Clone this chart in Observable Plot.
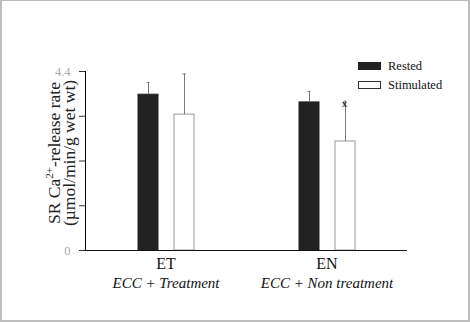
<!DOCTYPE html>
<html>
<head>
<meta charset="utf-8">
<script src="https://cdn.jsdelivr.net/npm/d3@7"></script>
<script src="https://cdn.jsdelivr.net/npm/@observablehq/plot@0.6"></script>
<style>
  html, body { margin: 0; padding: 0; background: #fff; }
  #wrap { position: relative; width: 470px; height: 322px; overflow: hidden; background: #fff; }
  #border { position: absolute; left: 0; top: 0; right: 0; bottom: 0; box-sizing: border-box;
            border-top: 1px solid #bdbdbd; border-left: 2px solid #bdbdbd; border-right: 2px solid #bdbdbd; border-bottom: 2px solid #bdbdbd; pointer-events: none; }
  .legend { position: absolute; font-family: "Liberation Serif", serif; font-size: 12.5px; color: #111; }
  .legend .sw { position: absolute; width: 23px; height: 8px; box-sizing: border-box; }
  .legend .lb { position: absolute; white-space: nowrap; line-height: 12px; }
</style>
</head>
<body>
<div id="wrap"></div>
<script>
// ---- data ----
const groups = ["ET", "EN"];
const groupLabels = ["ECC + Treatment", "ECC + Non treatment"];
const conditions = ["Rested", "Stimulated"];
const restedMeans = [3.83, 3.64];
const restedErr = [0.30, 0.27];
const stimMeans = [3.34, 2.68];
const stimErr = [1.00, 0.99];
const significant = [false, true]; // "x" marker on stimulated bar
const yTicks = [0, 1.1, 2.2, 3.3, 4.4];
const yTickLabels = ["0", "", "", "", "4.4"];
const yLabelLines = ["SR Ca", "2+", "-release rate", "(µmol/min/g wet wt)"];

// ---- table ----
const rows = groups.flatMap((g, i) => [
  {group: g, cond: conditions[0], value: restedMeans[i], err: restedErr[i], sig: false},
  {group: g, cond: conditions[1], value: stimMeans[i], err: stimErr[i], sig: significant[i]}
]);
const labelRows = groups.map((g, i) => ({group: g, sub: groupLabels[i]}));

const serif = "'Liberation Serif', 'Times New Roman', serif";

const chart = Plot.plot({
  width: 470,
  height: 322,
  marginLeft: 84,
  marginRight: 63,
  marginTop: 71,
  marginBottom: 72,
  style: {fontFamily: serif, background: "transparent", overflow: "visible"},
  fx: {domain: groups, padding: 0, axis: null, label: null},
  x: {domain: conditions, paddingInner: 0.446, paddingOuter: 1.405, axis: null, label: null},
  y: {
    domain: [0, 4.4],
    ticks: yTicks,
    tickFormat: d => yTickLabels[yTicks.indexOf(d)] ?? "",
    tickSize: 6,
    tickPadding: 9,
    line: true,
    label: null
  },
  marks: [
    Plot.barY(rows.filter(d => d.cond === "Rested"), {fx: "group", x: "cond", y: "value", fill: "#222", stroke: "#222"}),
    Plot.barY(rows.filter(d => d.cond === "Stimulated"), {fx: "group", x: "cond", y: "value", fill: "#fff", stroke: "#9a9a9a", strokeWidth: 1}),
    Plot.ruleX(rows, {fx: "group", x: "cond", y1: "value", y2: d => d.value + d.err, stroke: "#7a7a7a", strokeWidth: 1}),
    Plot.tickY(rows, {fx: "group", x: "cond", y: d => d.value + d.err, stroke: "#7a7a7a", strokeWidth: 1, insetLeft: 8.5, insetRight: 8.5}),
    Plot.text(rows.filter(d => d.sig), {fx: "group", x: "cond", y: d => d.value + d.err, text: () => "x", dy: 3, dx: -1, fontSize: 10, fontWeight: "bold", fill: "#333"}),
    Plot.ruleY([0], {stroke: "#111"}),
    Plot.text(labelRows, {fx: "group", text: "group", frameAnchor: "bottom", dy: 18, fontSize: 16, fill: "#111"}),
    Plot.text(labelRows, {fx: "group", text: "sub", frameAnchor: "bottom", dy: 37, fontSize: 15, fontStyle: "italic", fill: "#111"})
  ]
});

// style axis
const svg = d3.select(chart);
svg.selectAll("[aria-label='y-axis tick label'] text, g[aria-label='y-axis'] text").attr("fill", "#aaa").attr("font-size", 12.5);
svg.selectAll("[aria-label='y-axis tick'] path").attr("stroke", "#333");

// y-axis title (two rotated lines)
const t1 = svg.append("text")
  .attr("transform", "translate(60,153) rotate(-90)")
  .attr("text-anchor", "middle")
  .attr("font-family", serif).attr("font-size", 17.5).attr("fill", "#222");
t1.append("tspan").text(yLabelLines[0]);
t1.append("tspan").attr("font-size", 11).attr("dy", -7).text(yLabelLines[1]);
t1.append("tspan").attr("dy", 7).text(yLabelLines[2]);
svg.append("text")
  .attr("transform", "translate(75,153) rotate(-90)")
  .attr("text-anchor", "middle")
  .attr("font-family", serif).attr("font-size", 17.5).attr("fill", "#222")
  .text(yLabelLines[3]);

const wrap = document.getElementById("wrap");
wrap.appendChild(chart);

// legend
const legend = document.createElement("div");
legend.className = "legend";
legend.style.left = "358px";
legend.style.top = "62px";
conditions.forEach((c, i) => {
  const sw = document.createElement("div");
  sw.className = "sw";
  sw.style.left = "0px";
  sw.style.top = (i * 19) + "px";
  if (i === 0) { sw.style.background = "#222"; }
  else { sw.style.background = "#fff"; sw.style.border = "1px solid #333"; }
  const lb = document.createElement("div");
  lb.className = "lb";
  lb.style.left = "30px";
  lb.style.top = (i * 19 - 2) + "px";
  lb.textContent = c;
  legend.appendChild(sw);
  legend.appendChild(lb);
});
wrap.appendChild(legend);

const border = document.createElement("div");
border.id = "border";
wrap.appendChild(border);
</script>
</body>
</html>
